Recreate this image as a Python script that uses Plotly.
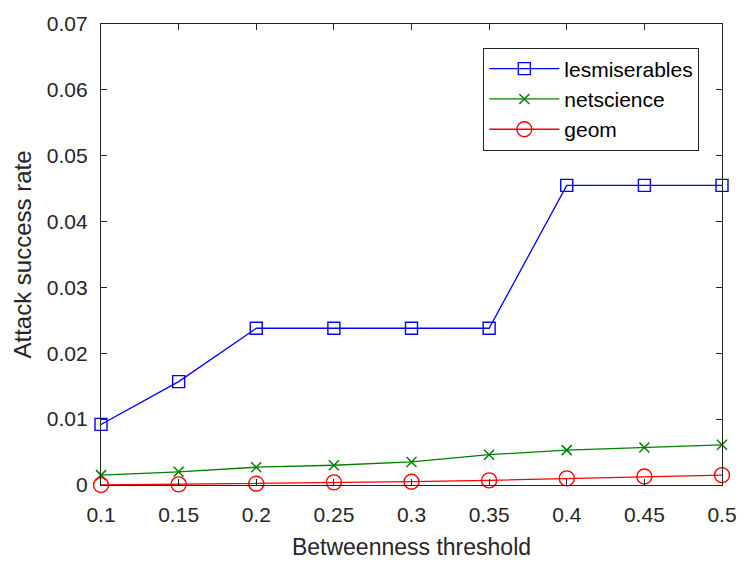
import plotly.graph_objects as go

thresholds = [0.1, 0.15, 0.2, 0.25, 0.3, 0.35, 0.4, 0.45, 0.5]
lesmiserables = [0.0092, 0.0157, 0.0238, 0.0238, 0.0238, 0.0238, 0.0455, 0.0455, 0.0455]
netscience = [0.0015, 0.0020, 0.0027, 0.0030, 0.0035, 0.0046, 0.0053, 0.0057, 0.0061]
geom = [0.0, 0.0001, 0.0002, 0.0004, 0.0005, 0.0007, 0.0010, 0.0013, 0.0015]

x_ticks = [0.1, 0.15, 0.2, 0.25, 0.3, 0.35, 0.4, 0.45, 0.5]
x_ticktext = ["0.1", "0.15", "0.2", "0.25", "0.3", "0.35", "0.4", "0.45", "0.5"]
y_ticks = [0, 0.01, 0.02, 0.03, 0.04, 0.05, 0.06, 0.07]
y_ticktext = ["0", "0.01", "0.02", "0.03", "0.04", "0.05", "0.06", "0.07"]

FONT = "Liberation Sans, Arial, Helvetica, sans-serif"
AX = "#262626"

fig = go.Figure()
fig.add_trace(go.Scatter(
    x=thresholds, y=lesmiserables, name="lesmiserables", mode="lines+markers",
    line=dict(color="#0000FF", width=1.3),
    marker=dict(symbol="square-open", size=12, color="#0000FF", line=dict(width=1.4)),
    cliponaxis=False))
fig.add_trace(go.Scatter(
    x=thresholds, y=netscience, name="netscience", mode="lines+markers",
    line=dict(color="#008000", width=1.3),
    marker=dict(symbol="x-thin-open", size=10, color="#008000", line=dict(width=1.5, color="#008000")),
    cliponaxis=False))
fig.add_trace(go.Scatter(
    x=thresholds, y=geom, name="geom", mode="lines+markers",
    line=dict(color="#FF0000", width=1.3),
    marker=dict(symbol="circle-open", size=15, color="#FF0000", line=dict(width=1.4)),
    cliponaxis=False))

axis_common = dict(
    showgrid=False, zeroline=False, showline=True, linecolor=AX, linewidth=1.2,
    mirror="ticks", ticks="inside", ticklen=6, tickcolor=AX, tickwidth=1,
    tickfont=dict(family=FONT, size=21, color=AX),
)
fig.update_xaxes(range=[0.1, 0.5], tickvals=x_ticks, ticktext=x_ticktext,
                 ticklabelstandoff=11,
                 title=dict(text="Betweenness threshold", font=dict(family=FONT, size=23, color=AX), standoff=13),
                 **axis_common)
fig.update_yaxes(range=[0, 0.07], tickvals=y_ticks, ticktext=y_ticktext,
                 ticklabelstandoff=8,
                 title=dict(text="Attack success rate", font=dict(family=FONT, size=24, color=AX), standoff=8),
                 **axis_common)

fig.update_layout(
    width=749, height=567,
    margin=dict(l=101, r=18, t=18, b=77),
    paper_bgcolor="white", plot_bgcolor="white",
    font=dict(family=FONT, color=AX),
    hovermode=False,
    legend=dict(x=0.9635, y=0.949, xanchor="right", yanchor="top",
                bgcolor="white", bordercolor=AX, borderwidth=1,
                font=dict(family=FONT, size=21, color="#000000"),
                itemwidth=70, tracegroupgap=0),
    showlegend=True,
)

fig.write_html("out.html", config={"displayModeBar": False},
               post_script="document.body.style.margin='0';")
